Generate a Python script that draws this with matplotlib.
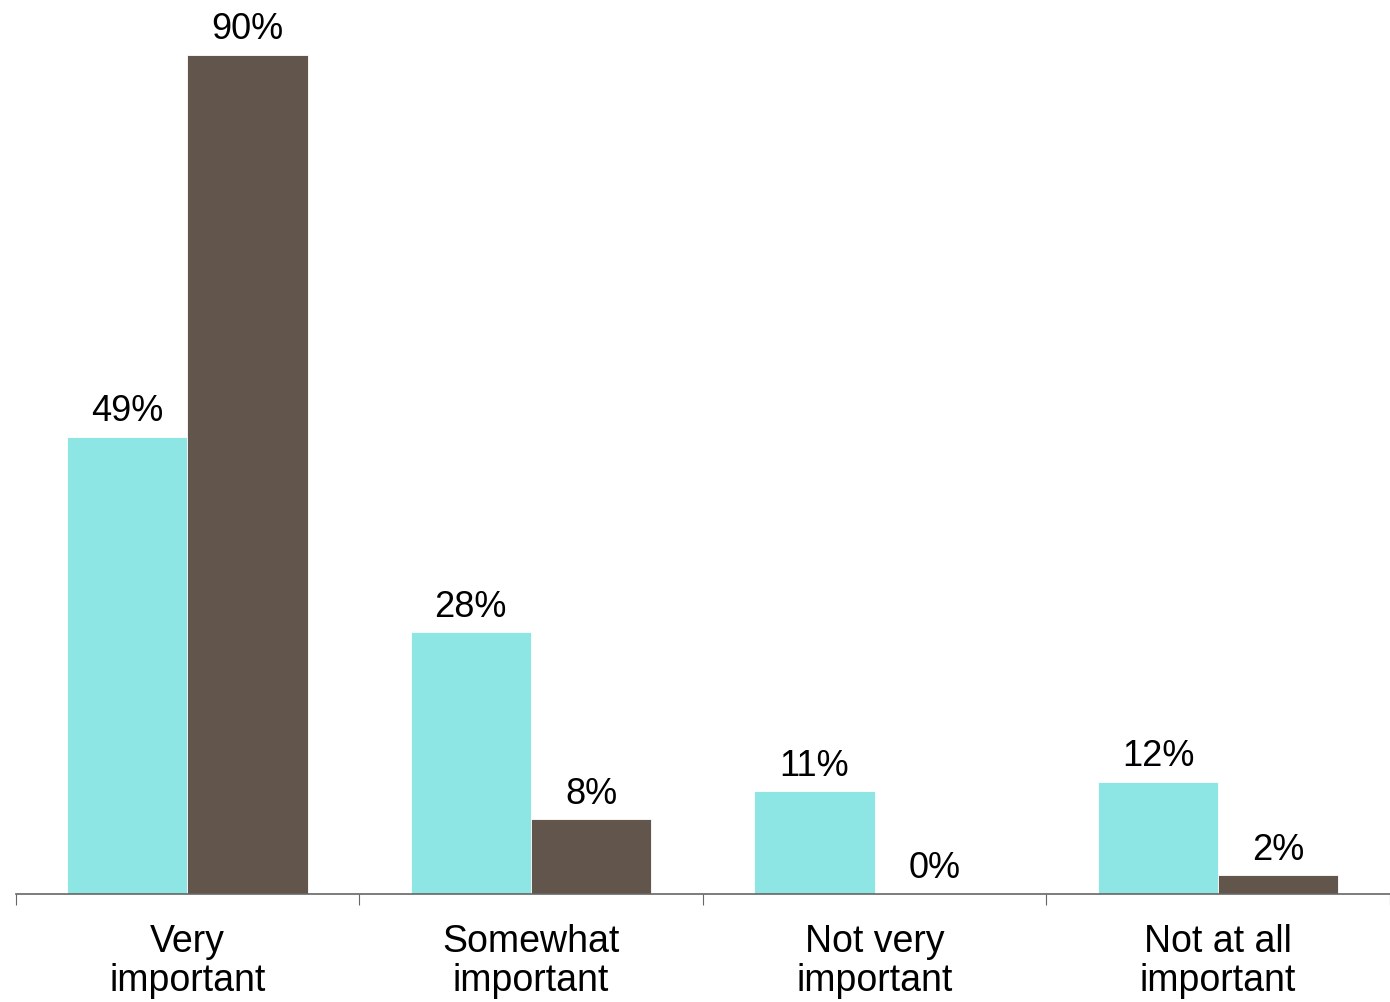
import matplotlib.pyplot as plt
import numpy as np

categories = ['Very\nimportant', 'Somewhat\nimportant', 'Not very\nimportant', 'Not at all\nimportant']
series_a = [49, 28, 11, 12]
series_b = [90, 8, 0, 2]
labels_a = ['49%', '28%', '11%', '12%']
labels_b = ['90%', '8%', '0%', '2%']

plt.rcParams['font.family'] = ['Liberation Sans', 'DejaVu Sans']

fig = plt.figure(figsize=(13.9, 10.03), dpi=100)
ax = fig.add_axes([15.5 / 1390, 1 - 894.5 / 1003, 1 - 15.5 / 1390, 894.5 / 1003])

x = np.arange(len(categories))
width = 0.35
bars_a = ax.bar(x + 0.5 - width / 2, series_a, width, color='#8DE6E3', edgecolor='white', linewidth=0.6)
bars_b = ax.bar(x + 0.5 + width / 2, series_b, width, color='#62564C', edgecolor='white', linewidth=0.6)

for bars, labels in [(bars_a, labels_a), (bars_b, labels_b)]:
    for b, lab in zip(bars, labels):
        ax.annotate(lab, (b.get_x() + b.get_width() / 2, b.get_height()),
                    xytext=(0, 6), textcoords='offset points',
                    ha='center', va='bottom', fontsize=26)

ax.set_xlim(0, 1374.5 / 347.0)
ax.set_ylim(0, 894.5 / 9.322)

ax.set_xticks(np.arange(0, 5))
ax.set_xticklabels([])
ax.set_xticks(x + 0.5, minor=True)
ax.set_xticklabels(categories, minor=True, fontsize=27, linespacing=1.13)
ax.tick_params(axis='x', which='major', length=8, direction='out', color='#666666')
ax.tick_params(axis='x', which='minor', length=0, pad=21)
ax.set_yticks([])

for s in ['top', 'right', 'left']:
    ax.spines[s].set_visible(False)
ax.spines['bottom'].set_color('#666666')
ax.spines['bottom'].set_linewidth(1.2)

fig.savefig('out.png', dpi=100)
